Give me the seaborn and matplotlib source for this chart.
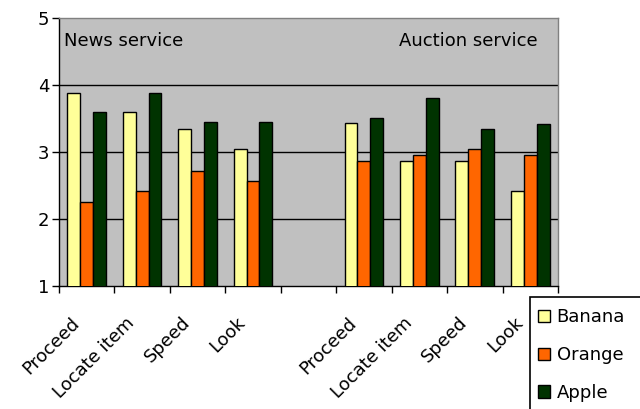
import pandas as pd
import seaborn as sns
import numpy as np
import matplotlib.pyplot as plt

# chart values
slots = ["N_Proceed", "N_Locate", "N_Speed", "N_Look", "gap",
         "A_Proceed", "A_Locate", "A_Speed", "A_Look"]
slot_labels = ["Proceed", "Locate item", "Speed", "Look", "",
               "Proceed", "Locate item", "Speed", "Look"]
data_slots = ["N_Proceed", "N_Locate", "N_Speed", "N_Look",
              "A_Proceed", "A_Locate", "A_Speed", "A_Look"]
banana = [3.88, 3.59, 3.35, 3.05, 3.43, 2.87, 2.87, 2.41]
orange = [2.26, 2.41, 2.71, 2.56, 2.86, 2.96, 3.05, 2.96]
apple = [3.59, 3.88, 3.44, 3.44, 3.50, 3.80, 3.35, 3.41]
fruits = ["Banana", "Orange", "Apple"]
colors = ["#FFFF99", "#FF6600", "#003300"]

df = pd.DataFrame({
    "slot": data_slots * 3,
    "fruit": ["Banana"] * 8 + ["Orange"] * 8 + ["Apple"] * 8,
    "score": banana + orange + apple,
})

sns.set_style("white")
plt.rcParams["font.family"] = ["DejaVu Sans"]
plt.rcParams["text.color"] = "black"
plt.rcParams["xtick.color"] = "black"
plt.rcParams["ytick.color"] = "black"
fs = 13

fig = plt.figure(figsize=(6.4, 4.09), dpi=100)
ax = fig.add_axes([0.092, 0.301, 0.78, 0.655])
ax.set_facecolor("#C0C0C0")

sns.barplot(data=df, x="slot", y="score", hue="fruit", order=slots,
            hue_order=fruits, palette=colors, width=0.7, saturation=1,
            edgecolor="black", linewidth=1, ax=ax, legend=False, zorder=3)

ax.set_ylim(1, 5)
ax.set_xlim(-0.5, 8.5)
ax.set_yticks([1, 2, 3, 4, 5])
ax.set_yticklabels(["1", "2", "3", "4", "5"], fontsize=fs)
for v in [2, 3, 4]:
    ax.axhline(v, color="black", lw=1, zorder=1)

# boundary ticks, labels near slot centres
ax.set_xticks(np.arange(-0.5, 9, 1))
ax.set_xticklabels([])
ax.set_xticks(np.arange(9) - 0.3, minor=True)
ax.set_xticklabels(slot_labels, minor=True, rotation=45, ha="right",
                   rotation_mode="anchor", fontsize=fs)
ax.tick_params(axis="x", which="major", length=5, width=1, color="black",
               direction="out", bottom=True)
ax.tick_params(axis="x", which="minor", length=0, pad=20)
ax.tick_params(axis="y", length=5, width=1, color="black", direction="out",
               left=True, pad=2)
ax.set_xlabel("")
ax.set_ylabel("")

for side in ["top", "right"]:
    ax.spines[side].set_color("#808080")
    ax.spines[side].set_linewidth(1)
for side in ["left", "bottom"]:
    ax.spines[side].set_color("black")
    ax.spines[side].set_linewidth(1)

ax.text(0.01, 0.915, "News service", transform=ax.transAxes, fontsize=fs,
        ha="left", va="center")
ax.text(0.96, 0.915, "Auction service", transform=ax.transAxes, fontsize=fs,
        ha="right", va="center")

# legend box runs off the bottom right corner like the original
box = plt.Rectangle((530 / 640, -0.05), 0.25, 1 - 297 / 409 + 0.05,
                    transform=fig.transFigure, facecolor="white",
                    edgecolor="black", lw=1.2)
fig.patches.append(box)
handles = [plt.Rectangle((0, 0), 1, 1, facecolor=c, edgecolor="black", lw=1)
           for c in colors]
leg = fig.legend(handles, fruits, loc="upper left",
                 bbox_to_anchor=(0.840, 0.246), frameon=False, fontsize=fs,
                 handlelength=0.7, handleheight=0.7, handletextpad=0.35,
                 labelspacing=1.1, borderpad=0, borderaxespad=0)

fig.savefig("out.png", dpi=100)
